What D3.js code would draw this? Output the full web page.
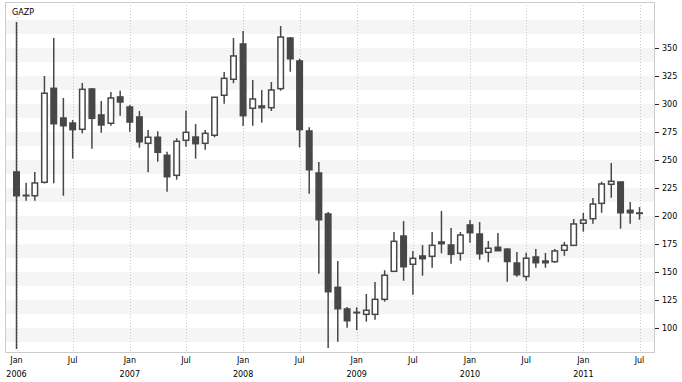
<!DOCTYPE html>
<html>
	<head>
		<script src="https://d3js.org/d3.v7.min.js"></script>
	</head>
	<body style="margin:0">
		<svg id="chart" width="682" height="382"></svg>
	</body>
	<style>
		text { font-family: "DejaVu Sans", sans-serif; font-size: 8px; fill: #000; }
	</style>
	<script>
	// monthly candles, Jan 2006 .. Jul 2011
	var title = "GAZP"
	var open  = [239.3,218.5,218.1,230.1,314.0,287.5,283.0,277.4,313.4,290.2,282.8,306.3,
	             297.3,288.4,264.9,270.3,254.2,236.3,267.6,270.5,264.9,272.1,307.8,322.1,
	             353.6,296.2,298.2,296.7,313.7,358.9,338.4,275.9,238.4,201.8,136.3,117.0,
	             114.0,112.2,112.2,125.6,150.6,182.1,156.9,164.3,164.0,176.8,174.1,166.7,
	             192.0,183.9,167.6,172.1,170.4,158.0,146.0,163.4,159.8,159.2,169.4,173.8,
	             193.5,197.6,211.3,228.3,230.4,205.1,202.7]
	var high  = [373.2,229.7,239.3,325.0,358.9,305.4,285.7,318.8,314.3,302.7,310.7,311.9,
	             299.0,293.8,276.8,275.6,257.4,269.4,294.0,282.1,276.8,306.3,328.6,358.9,
	             365.2,321.4,312.5,319.6,369.6,359.8,340.4,279.3,248.2,203.6,159.8,118.8,
	             118.5,130.4,141.1,151.6,185.7,195.5,168.8,174.1,185.7,204.5,189.3,185.7,
	             196.4,194.6,177.7,184.8,171.2,167.9,167.2,170.5,167.0,170.5,176.8,197.3,
	             202.7,216.1,230.6,247.3,230.4,212.5,208.0]
	var low   = [81.3,213.7,213.7,229.0,229.2,218.1,251.2,273.8,260.1,274.4,280.6,289.6,
	             275.3,261.0,239.0,248.5,221.7,232.4,261.9,251.2,259.2,270.3,300.3,318.5,
	             280.4,280.6,283.3,293.8,311.9,328.8,261.2,219.9,148.5,82.1,87.8,100.3,
	             98.2,105.6,107.4,123.5,150.6,142.2,129.7,146.7,153.8,166.7,157.4,160.1,
	             176.2,161.0,158.7,168.8,141.3,145.8,142.2,153.8,153.8,158.3,164.5,173.7,
	             186.0,193.1,202.9,216.3,188.7,193.1,196.7]
	var close = [218.1,218.5,229.5,309.6,282.4,280.6,277.1,313.1,287.2,281.3,305.4,301.8,
	             283.9,266.3,270.3,256.9,235.1,266.7,274.7,264.6,273.8,306.0,322.9,342.9,
	             289.6,304.5,296.7,312.5,359.8,340.4,277.1,241.3,196.7,132.4,117.2,106.5,
	             114.0,115.8,125.6,147.1,177.4,154.7,162.2,161.9,173.8,175.3,165.8,183.0,
	             185.1,166.3,171.2,169.0,159.4,147.6,162.3,158.3,158.3,168.8,173.8,192.9,
	             196.4,210.7,228.6,231.0,202.9,202.9,202.7]
	var months = d3.utcMonth.range(new Date(Date.UTC(2006, 0, 1)), new Date(Date.UTC(2011, 7, 1)))
	var yTicks = [100, 125, 150, 175, 200, 225, 250, 275, 300, 325, 350]

	var svg = d3.select("#chart")
	var plotL = 5, plotR = 655, plotT = 2, plotB = 353
	var dark = "#474747"

	var x = d3.scaleUtc()
		.domain([months[0], months[months.length - 1]])
		.range([16.5, 639.5])
	var y = d3.scaleLinear()
		.domain([100, 350])
		.range([328, 48])

	var candles = months.map(function(d, i) {
		return {date: d, o: open[i], h: high[i], l: low[i], c: close[i]}
	})

	svg.append("clipPath").attr("id", "plot")
		.append("rect")
			.attr("x", plotL).attr("y", plotT)
			.attr("width", plotR - plotL).attr("height", plotB - plotT)

	// alternating bands
	var bandTops = d3.range(100, 400, 25)
	svg.append("g")
		.attr("clip-path", "url(#plot)")
		.selectAll("rect")
		.data(bandTops)
		.enter().append("rect")
			.attr("x", plotL)
			.attr("width", plotR - plotL)
			.attr("y", function(d){ return y(d) })
			.attr("height", function(d){ return y(d - 12.5) - y(d) })
			.style("fill", "#f5f5f5")

	// dotted verticals at Jan / Jul
	var xTicks = d3.utcMonth.every(6).range(months[0], new Date(Date.UTC(2011, 7, 1)))
	svg.append("g")
		.selectAll("line")
		.data(xTicks)
		.enter().append("line")
			.attr("x1", function(d){ return Math.round(x(d)) + 0.5 })
			.attr("x2", function(d){ return Math.round(x(d)) + 0.5 })
			.attr("y1", plotT)
			.attr("y2", plotB)
			.style("stroke", "#c8c8c8")
			.style("stroke-dasharray", "1,2")

	// border
	svg.append("rect")
		.attr("x", plotL + 0.5).attr("y", plotT + 0.5)
		.attr("width", plotR - plotL - 1).attr("height", plotB - plotT - 1)
		.style("fill", "none")
		.style("stroke", "#cccccc")

	// candles
	var g = svg.append("g").attr("clip-path", "url(#plot)")
	g.selectAll("line")
		.data(candles)
		.enter().append("line")
			.attr("x1", function(d){ return x(d.date) })
			.attr("x2", function(d){ return x(d.date) })
			.attr("y1", function(d){ return y(d.h) })
			.attr("y2", function(d){ return y(d.l) })
			.style("stroke", dark)
			.style("stroke-width", 1.5)
	g.selectAll("rect")
		.data(candles)
		.enter().append("rect")
			.attr("x", function(d){ return x(d.date) - 2.75 })
			.attr("width", 5.5)
			.attr("y", function(d){ return y(Math.max(d.o, d.c)) })
			.attr("height", function(d){ return Math.max(0.5, Math.abs(y(d.o) - y(d.c))) })
			.style("fill", function(d){ return d.c > d.o ? "#fff" : dark })
			.style("stroke", dark)
			.style("stroke-width", 1.5)

	// right axis
	var ya = svg.append("g")
	ya.selectAll("line")
		.data(yTicks)
		.enter().append("line")
			.attr("x1", plotR).attr("x2", plotR + 4)
			.attr("y1", function(d){ return Math.round(y(d)) + 0.5 })
			.attr("y2", function(d){ return Math.round(y(d)) + 0.5 })
			.style("stroke", "#222")
	ya.selectAll("text")
		.data(yTicks)
		.enter().append("text")
			.attr("x", plotR + 7)
			.attr("y", function(d){ return y(d) })
			.attr("dy", "0.35em")
			.text(function(d){ return d })

	// bottom labels
	var xa = svg.append("g")
	xa.selectAll("text.m")
		.data(xTicks)
		.enter().append("text")
			.attr("class", "m")
			.attr("x", function(d){ return x(d) })
			.attr("y", 363)
			.attr("text-anchor", "middle")
			.text(function(d){ return d3.utcFormat("%b")(d) })
	xa.selectAll("text.yr")
		.data(xTicks.filter(function(d){ return d.getUTCMonth() === 0 }))
		.enter().append("text")
			.attr("class", "yr")
			.attr("x", function(d){ return x(d) })
			.attr("y", 377)
			.attr("text-anchor", "middle")
			.text(function(d){ return d3.utcFormat("%Y")(d) })

	svg.append("text")
		.attr("x", 12)
		.attr("y", 15)
		.text(title)
	</script>
</html>
